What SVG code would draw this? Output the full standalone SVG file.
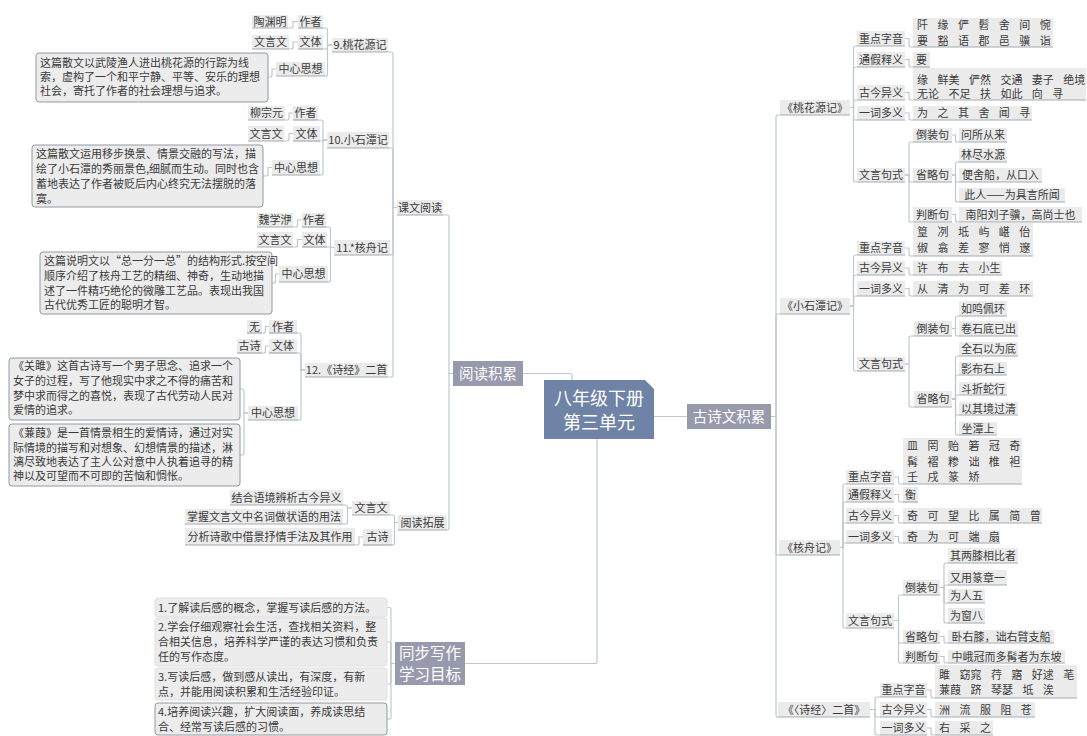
<svg xmlns="http://www.w3.org/2000/svg" width="1087" height="736" viewBox="0 0 1087 736">
<style>
.n{fill:#ebebeb}
.u{fill:none;stroke:#a0abb4;stroke-width:1.2}
.t{font-family:"Noto Sans CJK SC","Noto Sans",sans-serif;font-size:11px;fill:#3a3a3a}
.m{text-anchor:middle}
.sp{word-spacing:7px}
.b{fill:#ececec;stroke:#8e9aa5;stroke-width:1}
.b2{fill:#ececec;stroke:#e0e0e0;stroke-width:1}
.c{fill:none;stroke:#bfc8cf;stroke-width:1.2}
.l1{fill:#9799ad}
.w{font-family:"Noto Sans CJK SC","Noto Sans",sans-serif;fill:#ffffff;text-anchor:middle}
</style>
<rect width="1087" height="736" fill="#ffffff"/>
<g id="connectors" class="c">
<path d="M572,380V375.5Q572,373.5 570,373.5H523"/>
<path d="M654,416.5H687"/>
<path d="M597,439V661.5Q597,663.5 595,663.5H465"/>
<path d="M453,373.5H449V217Q449,215 447,215H443"/>
<path d="M453,373.5H449V528Q449,530 447,530"/>
<path d="M397,207.5H393V54Q393,52 391,52H388"/>
<path d="M397,207.5H393V150Q393,148 391,148H389"/>
<path d="M397,207.5H393V253Q393,255 391,255H390"/>
<path d="M397,207.5H393V375Q393,377 391,377H388"/>
<path d="M332,45H327.5V30Q327.5,28 325.5,28H323"/>
<path d="M332,45H327.5V47Q327.5,49 325.5,49H323"/>
<path d="M332,45H327.5V74Q327.5,76 325.5,76H325"/>
<path d="M298,21.5H293V26Q293,28 291,28H288"/>
<path d="M298,42H293V47Q293,49 291,49H289"/>
<path d="M276,69H272V75Q272,77 270,77H268"/>
<path d="M327,140H323V122Q323,120 321,120H318"/>
<path d="M327,140H323V141H320"/>
<path d="M327,140H323V173Q323,175 321,175H320"/>
<path d="M293,113H289V118Q289,120 287,120H285"/>
<path d="M293,133.5H289V139Q289,141 287,141H284"/>
<path d="M272,167.5H268V174Q268,176 266,176H263"/>
<path d="M334,247.5H330.5V229Q330.5,227 328.5,227H326"/>
<path d="M334,247.5H330.5V247H327"/>
<path d="M334,247.5H330.5V280Q330.5,282 328.5,282H328"/>
<path d="M302,220H297.5V225Q297.5,227 295.5,227H293"/>
<path d="M302,239.5H297.5V245Q297.5,247 295.5,247H293"/>
<path d="M279,274H275.5V281Q275.5,283 273.5,283H272"/>
<path d="M305,370H301V335Q301,333 299,333H297"/>
<path d="M305,370H301V355Q301,353 299,353H297"/>
<path d="M305,370H301V418Q301,420 299,420H298"/>
<path d="M269,326.5H265.5V331Q265.5,333 263.5,333H262"/>
<path d="M269,346H265.5V351Q265.5,353 263.5,353H262"/>
<path d="M248,413H244V391Q244,389 242,389H240"/>
<path d="M248,413H244V453Q244,455 242,455H240"/>
<path d="M398,522.5H394.5V517Q394.5,515 392.5,515H390"/>
<path d="M398,522.5H394.5V543Q394.5,545 392.5,545H392"/>
<path d="M352,508H347.5V507Q347.5,505 345.5,505H343"/>
<path d="M352,508H347.5V522Q347.5,524 345.5,524H343"/>
<path d="M363,537H359V543Q359,545 357,545H355"/>
<path d="M395,663.5H391V609.5Q391,607.5 389,607.5H387"/>
<path d="M395,663.5H391V644Q391,642 389,642H387"/>
<path d="M395,663.5H391V682Q391,684 389,684H387"/>
<path d="M395,663.5H391V717Q391,719 389,719H387"/>
<path d="M771,416.5H776V117Q776,115 778,115H780"/>
<path d="M771,416.5H776V316Q776,314 778,314H780"/>
<path d="M771,416.5H776V553Q776,555 778,555H779"/>
<path d="M771,416.5H776V715Q776,717 778,717"/>
<path d="M850,107.5H853.5V48Q853.5,46 855.5,46H857"/>
<path d="M850,107.5H853.5V69Q853.5,67 855.5,67H857"/>
<path d="M850,107.5H853.5V102Q853.5,100 855.5,100H857"/>
<path d="M850,107.5H853.5V118Q853.5,120 855.5,120H857"/>
<path d="M850,107.5H853.5V180Q853.5,182 855.5,182H857"/>
<path d="M905,38.5H909V45Q909,47 911,47H913"/>
<path d="M905,59.5H909V65Q909,67 911,67H913"/>
<path d="M905,92.5H909V98Q909,100 911,100H913"/>
<path d="M905,113H909V118Q909,120 911,120H913"/>
<path d="M905,175H909V144Q909,142 911,142H913"/>
<path d="M905,175H909V180Q909,182 911,182H913"/>
<path d="M905,175H909V220Q909,222 911,222H913"/>
<path d="M952,135H955.5V140Q955.5,142 957.5,142H959"/>
<path d="M952,175H955.5V164Q955.5,162 957.5,162H959"/>
<path d="M952,175H955.5V180Q955.5,182 957.5,182H959"/>
<path d="M952,175H955.5V200Q955.5,202 957.5,202H959"/>
<path d="M952,214.5H955.5V220Q955.5,222 957.5,222H959"/>
<path d="M850,306H853.5V257Q853.5,255 855.5,255H857"/>
<path d="M850,306H853.5V277Q853.5,275 855.5,275H857"/>
<path d="M850,306H853.5V298Q853.5,296 855.5,296H857"/>
<path d="M850,306H853.5V369Q853.5,371 855.5,371H857"/>
<path d="M905,248H909V254Q909,256 911,256H913"/>
<path d="M905,268H909V273Q909,275 911,275H913"/>
<path d="M905,288.5H909V294Q909,296 911,296H913"/>
<path d="M905,364H909V338Q909,336 911,336H914"/>
<path d="M905,364H909V405Q909,407 911,407H914"/>
<path d="M952,328.5H955.5V318Q955.5,316 957.5,316H959"/>
<path d="M952,328.5H955.5V334Q955.5,336 957.5,336H959"/>
<path d="M952,399H955.5V358Q955.5,356 957.5,356H959"/>
<path d="M952,399H955.5V377Q955.5,375 957.5,375H959"/>
<path d="M952,399H955.5V397Q955.5,395 957.5,395H959"/>
<path d="M952,399H955.5V413Q955.5,415 957.5,415H959"/>
<path d="M952,399H955.5V433Q955.5,435 957.5,435H959"/>
<path d="M840,547.5H843V486Q843,484 845,484H846"/>
<path d="M840,547.5H843V504Q843,502 845,502H846"/>
<path d="M840,547.5H843V525Q843,523 845,523H846"/>
<path d="M840,547.5H843V545Q843,543 845,543H846"/>
<path d="M840,547.5H843V626Q843,628 845,628H846"/>
<path d="M894,477H898.5V482Q898.5,484 900.5,484H903"/>
<path d="M894,494.5H898.5V500Q898.5,502 900.5,502H903"/>
<path d="M894,515.5H898.5V521Q898.5,523 900.5,523H903"/>
<path d="M894,536.5H898.5V541Q898.5,543 900.5,543H903"/>
<path d="M894,620.5H898.5V597Q898.5,595 900.5,595H903"/>
<path d="M894,620.5H898.5V641Q898.5,643 900.5,643H903"/>
<path d="M894,620.5H898.5V661Q898.5,663 900.5,663H903"/>
<path d="M940,587.5H944V565Q944,563 946,563H948"/>
<path d="M940,587.5H944V587Q944,585 946,585H948"/>
<path d="M940,587.5H944V601Q944,603 946,603H948"/>
<path d="M940,587.5H944V621Q944,623 946,623H948"/>
<path d="M940,636.5H944V641Q944,643 946,643H948"/>
<path d="M940,656.5H944V661Q944,663 946,663H948"/>
<path d="M870,709.5H875V699Q875,697 877,697H880"/>
<path d="M870,709.5H875V715Q875,717 877,717H880"/>
<path d="M870,709.5H875V733Q875,735 877,735H880"/>
<path d="M927,690H931V696Q931,698 933,698H935"/>
<path d="M927,709.5H931V715Q931,717 933,717H935"/>
<path d="M927,728H931V733Q931,735 933,735H935"/>
</g>

<g id="root">
<path d="M544,380H645L654,389V439H544Z" fill="#6f83a6"/>
<text class="w" x="599" y="405" font-size="18">八年级下册</text>
<text class="w" x="599" y="429" font-size="18">第三单元</text>
</g>
<g id="yuedujilei"><rect class="l1" x="453" y="361" width="70" height="25"/><text class="w" x="488" y="379" font-size="14.5">阅读积累</text></g>
<g id="gushiwenjilei"><rect class="l1" x="687" y="404" width="84" height="25"/><text class="w" x="729" y="422" font-size="14.5">古诗文积累</text></g>
<g id="tongbuxiezuo"><rect class="l1" x="395" y="642" width="70" height="43"/><text class="w" x="430" y="659" font-size="15.5">同步写作</text><text class="w" x="430" y="680" font-size="15.5">学习目标</text></g>

<g id="kewenyuedu"><rect class="n" x="397" y="200" width="46" height="15"/><path class="u" d="M397,215H443"/><text class="t m" x="420" y="211.5">课文阅读</text></g>
<g id="yuedutuozhan"><rect class="n" x="398" y="515" width="49" height="15"/><path class="u" d="M398,530H447"/><text class="t m" x="422.5" y="526.5">阅读拓展</text></g>

<g id="k9"><rect class="n" x="332" y="38" width="56" height="14"/><path class="u" d="M332,52H388"/><text class="t m" x="360" y="49">9.桃花源记</text></g>
<g id="k9-zz"><rect class="n" x="298" y="15" width="25" height="13"/><path class="u" d="M298,28H323"/><text class="t m" x="310.5" y="25.5">作者</text></g>
<g id="k9-zz-v"><rect class="n" x="252" y="15" width="36" height="13"/><path class="u" d="M252,28H288"/><text class="t m" x="270" y="25.5">陶渊明</text></g>
<g id="k9-wt"><rect class="n" x="298" y="35" width="25" height="14"/><path class="u" d="M298,49H323"/><text class="t m" x="310.5" y="46">文体</text></g>
<g id="k9-wt-v"><rect class="n" x="252" y="35" width="37" height="14"/><path class="u" d="M252,49H289"/><text class="t m" x="270.5" y="46">文言文</text></g>
<g id="k9-zx"><rect class="n" x="276" y="62" width="49" height="14"/><path class="u" d="M276,76H325"/><text class="t m" x="300.5" y="73">中心思想</text></g>
<g id="k9-zx-v"><rect class="b" x="36" y="53" width="232" height="49" rx="3"/>
<text class="t" x="40" y="66.5">这篇散文以武陵渔人进出桃花源的行踪为线</text>
<text class="t" x="40" y="80.5">索，虚构了一个和平宁静、平等、安乐的理想</text>
<text class="t" x="40" y="94.5">社会，寄托了作者的社会理想与追求。</text></g>

<g id="k10"><rect class="n" x="327" y="132" width="62" height="16"/><path class="u" d="M327,148H389"/><text class="t m" x="358" y="144">10.小石潭记</text></g>
<g id="k10-zz"><rect class="n" x="293" y="106" width="25" height="14"/><path class="u" d="M293,120H318"/><text class="t m" x="305.5" y="117">作者</text></g>
<g id="k10-zz-v"><rect class="n" x="248" y="106" width="37" height="14"/><path class="u" d="M248,120H285"/><text class="t m" x="266.5" y="117">柳宗元</text></g>
<g id="k10-wt"><rect class="n" x="293" y="126" width="27" height="15"/><path class="u" d="M293,141H320"/><text class="t m" x="306.5" y="137.5">文体</text></g>
<g id="k10-wt-v"><rect class="n" x="248" y="126" width="36" height="15"/><path class="u" d="M248,141H284"/><text class="t m" x="266" y="137.5">文言文</text></g>
<g id="k10-zx"><rect class="n" x="272" y="160" width="48" height="15"/><path class="u" d="M272,175H320"/><text class="t m" x="296" y="171.5">中心思想</text></g>
<g id="k10-zx-v"><rect class="b" x="32" y="145" width="231" height="62" rx="3"/>
<text class="t" x="36" y="158">这篇散文运用移步换景、情景交融的写法，描</text>
<text class="t" x="36" y="173">绘了小石潭的秀丽景色,细腻而生动。同时也含</text>
<text class="t" x="36" y="188">蓄地表达了作者被贬后内心终究无法摆脱的落</text>
<text class="t" x="36" y="203">寞。</text></g>

<g id="k11"><rect class="n" x="334" y="240" width="56" height="15"/><path class="u" d="M334,255H390"/><text class="t m" x="362" y="251.5">11.*核舟记</text></g>
<g id="k11-zz"><rect class="n" x="302" y="213" width="24" height="14"/><path class="u" d="M302,227H326"/><text class="t m" x="314" y="224">作者</text></g>
<g id="k11-zz-v"><rect class="n" x="257" y="213" width="36" height="14"/><path class="u" d="M257,227H293"/><text class="t m" x="275" y="224">魏学洢</text></g>
<g id="k11-wt"><rect class="n" x="302" y="232" width="25" height="15"/><path class="u" d="M302,247H327"/><text class="t m" x="314.5" y="243.5">文体</text></g>
<g id="k11-wt-v"><rect class="n" x="257" y="232" width="36" height="15"/><path class="u" d="M257,247H293"/><text class="t m" x="275" y="243.5">文言文</text></g>
<g id="k11-zx"><rect class="n" x="279" y="266" width="49" height="16"/><path class="u" d="M279,282H328"/><text class="t m" x="303.5" y="278">中心思想</text></g>
<g id="k11-zx-v"><rect class="b" x="40" y="252" width="232" height="62" rx="3"/>
<text class="t" x="44" y="265">这篇说明文以“总一分一总”的结构形式.按空间</text>
<text class="t" x="44" y="280">顺序介绍了核舟工艺的精细、神奇，生动地描</text>
<text class="t" x="44" y="294.5">述了一件精巧绝伦的微雕工艺品。表现出我国</text>
<text class="t" x="44" y="309">古代优秀工匠的聪明才智。</text></g>

<g id="k12"><rect class="n" x="305" y="363" width="83" height="14"/><path class="u" d="M305,377H388"/><text class="t m" x="346.5" y="374">12.《诗经》二首</text></g>
<g id="k12-zz"><rect class="n" x="269" y="320" width="28" height="13"/><path class="u" d="M269,333H297"/><text class="t m" x="283" y="330.5">作者</text></g>
<g id="k12-zz-v"><rect class="n" x="247" y="320" width="15" height="13"/><path class="u" d="M247,333H262"/><text class="t m" x="254.5" y="330.5">无</text></g>
<g id="k12-wt"><rect class="n" x="269" y="339" width="28" height="14"/><path class="u" d="M269,353H297"/><text class="t m" x="283" y="350">文体</text></g>
<g id="k12-wt-v"><rect class="n" x="237" y="339" width="25" height="14"/><path class="u" d="M237,353H262"/><text class="t m" x="249.5" y="350">古诗</text></g>
<g id="k12-zx"><rect class="n" x="248" y="406" width="50" height="14"/><path class="u" d="M248,420H298"/><text class="t m" x="273" y="417">中心思想</text></g>
<g id="k12-zx-v1"><rect class="b" x="9" y="358" width="231" height="62" rx="3"/>
<text class="t" x="13" y="370">《关雎》这首古诗写一个男子思念、追求一个</text>
<text class="t" x="13" y="385">女子的过程，写了他现实中求之不得的痛苦和</text>
<text class="t" x="13" y="399.5">梦中求而得之的喜悦，表现了古代劳动人民对</text>
<text class="t" x="13" y="414">爱情的追求。</text></g>
<g id="k12-zx-v2"><rect class="b" x="9" y="424" width="231" height="62" rx="3"/>
<text class="t" x="13" y="437">《蒹葭》是一首情景相生的爱情诗，通过对实</text>
<text class="t" x="13" y="452">际情境的描写和对想象、幻想情景的描述，淋</text>
<text class="t" x="13" y="466">漓尽致地表达了主人公对意中人执着追寻的精</text>
<text class="t" x="13" y="480">神以及可望而不可即的苦恼和惆怅。</text></g>

<g id="tz-wyw"><rect class="n" x="352" y="501" width="38" height="14"/><path class="u" d="M352,515H390"/><text class="t m" x="371" y="512">文言文</text></g>
<g id="tz-gs"><rect class="n" x="363" y="529" width="29" height="16"/><path class="u" d="M363,545H392"/><text class="t m" x="377.5" y="541">古诗</text></g>
<g id="tz-1"><rect class="n" x="230" y="490" width="113" height="15"/><path class="u" d="M230,505H343"/><text class="t m" x="286.5" y="501.5">结合语境辨析古今异义</text></g>
<g id="tz-2"><rect class="n" x="185" y="509" width="158" height="15"/><path class="u" d="M185,524H343"/><text class="t m" x="264" y="520.5">掌握文言文中名词做状语的用法</text></g>
<g id="tz-3"><rect class="n" x="185" y="528" width="170" height="17"/><path class="u" d="M185,545H355"/><text class="t m" x="270" y="540.5">分析诗歌中借景抒情手法及其作用</text></g>

<g id="xz-1"><rect class="b2" x="155" y="598" width="232" height="19" rx="3"/><text class="t" x="158" y="611.5">1.了解读后感的概念，掌握写读后感的方法。</text></g>
<g id="xz-2"><rect class="b2" x="155" y="618" width="232" height="48" rx="3"/>
<text class="t" x="158" y="631">2.学会仔细观察社会生活，查找相关资料，整</text>
<text class="t" x="158" y="646">合相关信息，培养科学严谨的表达习惯和负责</text>
<text class="t" x="158" y="661">任的写作态度。</text></g>
<g id="xz-3"><rect class="b2" x="155" y="668" width="232" height="32" rx="3"/>
<text class="t" x="158" y="681">3.写读后感，做到感从读出，有深度，有新</text>
<text class="t" x="158" y="696">点，并能用阅读积累和生活经验印证。</text></g>
<g id="xz-4"><rect class="b" x="155" y="703" width="232" height="32" rx="3"/>
<text class="t" x="158" y="716">4.培养阅读兴趣，扩大阅读面，养成读思结</text>
<text class="t" x="158" y="731">合、经常写读后感的习惯。</text></g>

<g id="r-thy"><rect class="n" x="780" y="100" width="70" height="15"/><path class="u" d="M780,115H850"/><text class="t m" x="815" y="111.5">《桃花源记》</text></g>
<g id="r-thy-zy"><rect class="n" x="857" y="31" width="48" height="15"/><path class="u" d="M857,46H905"/><text class="t m" x="881" y="42.5">重点字音</text></g>
<g id="r-thy-zy-v"><rect class="n" x="913" y="18" width="140" height="29"/><path class="u" d="M913,47H1053"/><text class="t sp" x="917" y="29">阡 缘 俨 髫 舍 间 惋</text><text class="t sp" x="917" y="45">要 豁 语 郡 邑 骥 诣</text></g>
<g id="r-thy-tj"><rect class="n" x="857" y="52" width="48" height="15"/><path class="u" d="M857,67H905"/><text class="t m" x="881" y="63.5">通假释义</text></g>
<g id="r-thy-tj-v"><rect class="n" x="913" y="52" width="17" height="15"/><path class="u" d="M913,67H930"/><text class="t m" x="921.5" y="63.5">要</text></g>
<g id="r-thy-gj"><rect class="n" x="857" y="85" width="48" height="15"/><path class="u" d="M857,100H905"/><text class="t m" x="881" y="96.5">古今异义</text></g>
<g id="r-thy-gj-v"><rect class="n" x="913" y="68" width="173" height="32"/><path class="u" d="M913,100H1086"/><text class="t sp" x="917" y="84">缘 鲜美 俨然 交通 妻子 绝境</text><text class="t sp" x="917" y="98">无论 不足 扶 如此 向 寻</text></g>
<g id="r-thy-yc"><rect class="n" x="857" y="106" width="48" height="14"/><path class="u" d="M857,120H905"/><text class="t m" x="881" y="117">一词多义</text></g>
<g id="r-thy-yc-v"><rect class="n" x="913" y="106" width="119" height="14"/><path class="u" d="M913,120H1032"/><text class="t sp" x="917" y="117">为 之 其 舍 闻 寻</text></g>
<g id="r-thy-jš"><rect class="n" x="857" y="168" width="48" height="14"/><path class="u" d="M857,182H905"/><text class="t m" x="881" y="179">文言句式</text></g>
<g id="r-thy-dz"><rect class="n" x="913" y="128" width="39" height="14"/><path class="u" d="M913,142H952"/><text class="t m" x="932.5" y="139">倒装句</text></g>
<g id="r-thy-dz-1"><rect class="n" x="959" y="128" width="48" height="14"/><path class="u" d="M959,142H1007"/><text class="t m" x="983" y="139">问所从来</text></g>
<g id="r-thy-sl"><rect class="n" x="913" y="168" width="39" height="14"/><path class="u" d="M913,182H952"/><text class="t m" x="932.5" y="179">省略句</text></g>
<g id="r-thy-sl-1"><rect class="n" x="959" y="148" width="48" height="14"/><path class="u" d="M959,162H1007"/><text class="t m" x="983" y="159">林尽水源</text></g>
<g id="r-thy-sl-2"><rect class="n" x="959" y="168" width="83" height="14"/><path class="u" d="M959,182H1042"/><text class="t m" x="1000.5" y="179">便舍船，从口入</text></g>
<g id="r-thy-sl-3"><rect class="n" x="959" y="188" width="106" height="14"/><path class="u" d="M959,202H1065"/><text class="t m" x="1012" y="199">此人——为具言所闻</text></g>
<g id="r-thy-pd"><rect class="n" x="913" y="207" width="39" height="15"/><path class="u" d="M913,222H952"/><text class="t m" x="932.5" y="218.5">判断句</text></g>
<g id="r-thy-pd-1"><rect class="n" x="959" y="207" width="123" height="15"/><path class="u" d="M959,222H1082"/><text class="t m" x="1020.5" y="218.5">南阳刘子骥，高尚士也</text></g>

<g id="r-xst"><rect class="n" x="780" y="298" width="70" height="16"/><path class="u" d="M780,314H850"/><text class="t m" x="815" y="310">《小石潭记》</text></g>
<g id="r-xst-zy"><rect class="n" x="857" y="241" width="48" height="14"/><path class="u" d="M857,255H905"/><text class="t m" x="881" y="252">重点字音</text></g>
<g id="r-xst-zy-v"><rect class="n" x="913" y="223" width="120" height="33"/><path class="u" d="M913,256H1033"/><text class="t sp" x="917" y="236">篁 冽 坻 屿 嵁 佁</text><text class="t sp" x="917" y="252">俶 翕 差 寥 悄 邃</text></g>
<g id="r-xst-gj"><rect class="n" x="857" y="261" width="48" height="14"/><path class="u" d="M857,275H905"/><text class="t m" x="881" y="272">古今异义</text></g>
<g id="r-xst-gj-v"><rect class="n" x="913" y="261" width="89" height="14"/><path class="u" d="M913,275H1002"/><text class="t sp" x="917" y="272">许 布 去 小生</text></g>
<g id="r-xst-yc"><rect class="n" x="857" y="281" width="48" height="15"/><path class="u" d="M857,296H905"/><text class="t m" x="881" y="292.5">一词多义</text></g>
<g id="r-xst-yc-v"><rect class="n" x="913" y="281" width="120" height="15"/><path class="u" d="M913,296H1033"/><text class="t sp" x="917" y="292.5">从 清 为 可 差 环</text></g>
<g id="r-xst-js"><rect class="n" x="857" y="357" width="48" height="14"/><path class="u" d="M857,371H905"/><text class="t m" x="881" y="368">文言句式</text></g>
<g id="r-xst-dz"><rect class="n" x="914" y="321" width="38" height="15"/><path class="u" d="M914,336H952"/><text class="t m" x="933" y="332.5">倒装句</text></g>
<g id="r-xst-dz-1"><rect class="n" x="959" y="301" width="48" height="15"/><path class="u" d="M959,316H1007"/><text class="t m" x="983" y="312.5">如鸣佩环</text></g>
<g id="r-xst-dz-2"><rect class="n" x="959" y="321" width="59" height="15"/><path class="u" d="M959,336H1018"/><text class="t m" x="988.5" y="332.5">卷石底已出</text></g>
<g id="r-xst-sl"><rect class="n" x="914" y="391" width="38" height="16"/><path class="u" d="M914,407H952"/><text class="t m" x="933" y="403">省略句</text></g>
<g id="r-xst-sl-1"><rect class="n" x="959" y="342" width="59" height="14"/><path class="u" d="M959,356H1018"/><text class="t m" x="988.5" y="353">全石以为底</text></g>
<g id="r-xst-sl-2"><rect class="n" x="959" y="362" width="48" height="13"/><path class="u" d="M959,375H1007"/><text class="t m" x="983" y="372.5">影布石上</text></g>
<g id="r-xst-sl-3"><rect class="n" x="959" y="382" width="48" height="13"/><path class="u" d="M959,395H1007"/><text class="t m" x="983" y="392.5">斗折蛇行</text></g>
<g id="r-xst-sl-4"><rect class="n" x="959" y="402" width="59" height="13"/><path class="u" d="M959,415H1018"/><text class="t m" x="988.5" y="412.5">以其境过清</text></g>
<g id="r-xst-sl-5"><rect class="n" x="959" y="422" width="38" height="13"/><path class="u" d="M959,435H997"/><text class="t m" x="978" y="432.5">坐潭上</text></g>

<g id="r-hzj"><rect class="n" x="779" y="540" width="61" height="15"/><path class="u" d="M779,555H840"/><text class="t m" x="809.5" y="551.5">《核舟记》</text></g>
<g id="r-hzj-zy"><rect class="n" x="846" y="470" width="48" height="14"/><path class="u" d="M846,484H894"/><text class="t m" x="870" y="481">重点字音</text></g>
<g id="r-hzj-zy-v"><rect class="n" x="903" y="438" width="119" height="46"/><path class="u" d="M903,484H1022"/><text class="t sp" x="907" y="450">皿 罔 贻 箬 冠 奇</text><text class="t sp" x="907" y="465.5">髯 褶 糁 诎 椎 袒</text><text class="t sp" x="907" y="481">壬 戌 篆 矫</text></g>
<g id="r-hzj-tj"><rect class="n" x="846" y="487" width="48" height="15"/><path class="u" d="M846,502H894"/><text class="t m" x="870" y="498.5">通假释义</text></g>
<g id="r-hzj-tj-v"><rect class="n" x="903" y="487" width="15" height="15"/><path class="u" d="M903,502H918"/><text class="t m" x="910.5" y="498.5">衡</text></g>
<g id="r-hzj-gj"><rect class="n" x="846" y="508" width="48" height="15"/><path class="u" d="M846,523H894"/><text class="t m" x="870" y="519.5">古今异义</text></g>
<g id="r-hzj-gj-v"><rect class="n" x="903" y="508" width="139" height="15"/><path class="u" d="M903,523H1042"/><text class="t sp" x="907" y="519.5">奇 可 望 比 属 简 曾</text></g>
<g id="r-hzj-yc"><rect class="n" x="846" y="530" width="48" height="13"/><path class="u" d="M846,543H894"/><text class="t m" x="870" y="540.5">一词多义</text></g>
<g id="r-hzj-yc-v"><rect class="n" x="903" y="530" width="97" height="13"/><path class="u" d="M903,543H1000"/><text class="t sp" x="907" y="540.5">奇 为 可 端 扇</text></g>
<g id="r-hzj-js"><rect class="n" x="846" y="613" width="48" height="15"/><path class="u" d="M846,628H894"/><text class="t m" x="870" y="624.5">文言句式</text></g>
<g id="r-hzj-dz"><rect class="n" x="903" y="580" width="37" height="15"/><path class="u" d="M903,595H940"/><text class="t m" x="921.5" y="591.5">倒装句</text></g>
<g id="r-hzj-dz-1"><rect class="n" x="948" y="548" width="70" height="15"/><path class="u" d="M948,563H1018"/><text class="t m" x="983" y="559.5">其两膝相比者</text></g>
<g id="r-hzj-dz-2"><rect class="n" x="948" y="570" width="59" height="15"/><path class="u" d="M948,585H1007"/><text class="t m" x="977.5" y="581.5">又用篆章一</text></g>
<g id="r-hzj-dz-3"><rect class="n" x="948" y="589" width="37" height="14"/><path class="u" d="M948,603H985"/><text class="t m" x="966.5" y="600">为人五</text></g>
<g id="r-hzj-dz-4"><rect class="n" x="948" y="608" width="37" height="15"/><path class="u" d="M948,623H985"/><text class="t m" x="966.5" y="619.5">为窗八</text></g>
<g id="r-hzj-sl"><rect class="n" x="903" y="630" width="37" height="13"/><path class="u" d="M903,643H940"/><text class="t m" x="921.5" y="640.5">省略句</text></g>
<g id="r-hzj-sl-1"><rect class="n" x="948" y="630" width="106" height="13"/><path class="u" d="M948,643H1054"/><text class="t m" x="1001" y="640.5">卧右膝，诎右臂支船</text></g>
<g id="r-hzj-pd"><rect class="n" x="903" y="650" width="37" height="13"/><path class="u" d="M903,663H940"/><text class="t m" x="921.5" y="660.5">判断句</text></g>
<g id="r-hzj-pd-1"><rect class="n" x="948" y="650" width="117" height="13"/><path class="u" d="M948,663H1065"/><text class="t m" x="1006.5" y="660.5">中峨冠而多髯者为东坡</text></g>

<g id="r-sj"><rect class="n" x="778" y="702" width="92" height="15"/><path class="u" d="M778,717H870"/><text class="t m" x="824" y="713.5">《〈诗经〉二首》</text></g>
<g id="r-sj-zy"><rect class="n" x="880" y="683" width="47" height="14"/><path class="u" d="M880,697H927"/><text class="t m" x="903.5" y="694">重点字音</text></g>
<g id="r-sj-zy-v"><rect class="n" x="935" y="665" width="142" height="33"/><path class="u" d="M935,698H1077"/><text class="t sp" x="939" y="679">雎 窈窕 荇 寤 好逑 芼</text><text class="t sp" x="939" y="694">蒹葭 跻 琴瑟 坻 涘</text></g>
<g id="r-sj-gj"><rect class="n" x="880" y="702" width="47" height="15"/><path class="u" d="M880,717H927"/><text class="t m" x="903.5" y="713.5">古今异义</text></g>
<g id="r-sj-gj-v"><rect class="n" x="935" y="702" width="100" height="15"/><path class="u" d="M935,717H1035"/><text class="t sp" x="939" y="713.5">洲 流 服 阻 苍</text></g>
<g id="r-sj-yc"><rect class="n" x="880" y="721" width="47" height="14"/><path class="u" d="M880,735H927"/><text class="t m" x="903.5" y="732">一词多义</text></g>
<g id="r-sj-yc-v"><rect class="n" x="935" y="721" width="58" height="14"/><path class="u" d="M935,735H993"/><text class="t sp" x="939" y="732">右 采 之</text></g>
</svg>
